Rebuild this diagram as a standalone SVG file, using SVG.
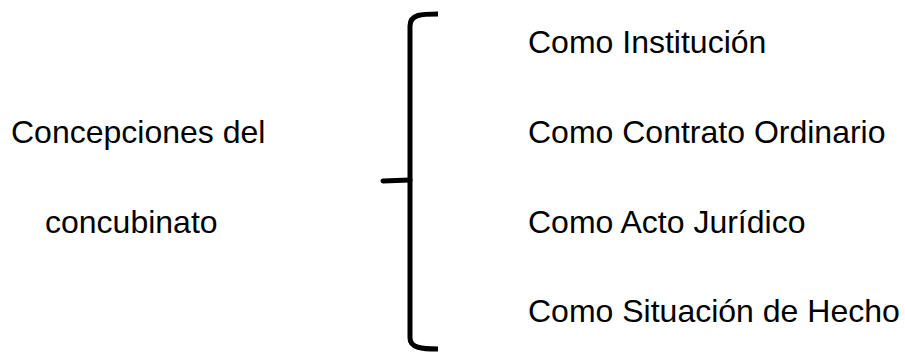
<svg xmlns="http://www.w3.org/2000/svg" width="905" height="352" viewBox="0 0 905 352">
<style>
.t{font-family:"Liberation Sans",Arial,sans-serif;fill:#000;font-size:32px}
.brace{fill:none;stroke:#000;stroke-width:5}
</style>
<rect width="905" height="352" fill="#fff"/>
<g id="concept">
<text class="t" x="11" y="143">Concepciones del</text>
<text class="t" x="45" y="233">concubinato</text>
</g>
<g id="connectors">
<path class="brace" d="M438,14 C422,14 410,14 410,26 L410,338 C410,348 422,349 438,349"/>
<path class="brace" d="M383,181 L410,180" stroke-linecap="round"/>
</g>
<g id="item1"><text class="t" x="528" y="53">Como Institución</text></g>
<g id="item2"><text class="t" x="528" y="143">Como Contrato Ordinario</text></g>
<g id="item3"><text class="t" x="528" y="233">Como Acto Jurídico</text></g>
<g id="item4"><text class="t" x="528" y="322">Como Situación de Hecho</text></g>
</svg>
